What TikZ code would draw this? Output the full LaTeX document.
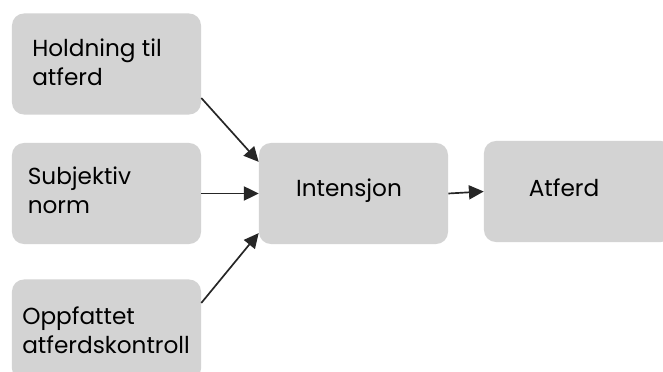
\documentclass[tikz,border=0pt]{standalone}
\usepackage{fontspec}
\setmainfont{Poppins}
\usetikzlibrary{arrows.meta,positioning}
\definecolor{boxgray}{RGB}{211,211,211}
\tikzset{
  box/.style={fill=boxgray, rounded corners=0.3cm, minimum width=4.725cm,
    minimum height=2.525cm, inner sep=0pt},
  lbl/.style={align=left, inner sep=0pt, anchor=west,
    font=\fontsize{16.5}{20.5}\selectfont},
  pil/.style={-{Triangle[length=10.5pt,width=10pt]}, line width=1.2pt, black!85}
}
\begin{document}
\begin{tikzpicture}[x=0.025cm,y=-0.025cm]
      \useasboundingbox (0,0) rectangle (663,372);
      \clip (0,0) rectangle (663,372);
      \path
        (106.5,64) node[box] (holdning){}
        (106.5,193.5) node[box] (norm){}
        (106.5,330) node[box] (kontroll){}
        (353.5,193.5) node[box] (intensjon){}
        (578.5,191.5) node[box] (atferd){};
      \path
        (32,62) node[lbl] (holdningtxt){Holdning til\\atferd}
        (27.5,190) node[lbl] (normtxt){Subjektiv\\norm}
        (22,330) node[lbl] (kontrolltxt){Oppfattet\\atferdskontroll}
        (349,191) node[lbl, anchor=center] (intensjontxt){Intensjon}
        (564,188) node[lbl, anchor=center] (atferdtxt){Atferd};
      \begin{scope}[pil]
        \draw ([yshift=-0.85cm]holdning.east) to ([yshift=0.79cm]intensjon.west);
        \draw (norm.east) to (intensjon.west);
        \draw ([yshift=0.675cm]kontroll.east) to ([yshift=-0.99cm]intensjon.west);
        \draw (intensjon.east) to (atferd.west);
      \end{scope}
    \end{tikzpicture}
\end{document}
